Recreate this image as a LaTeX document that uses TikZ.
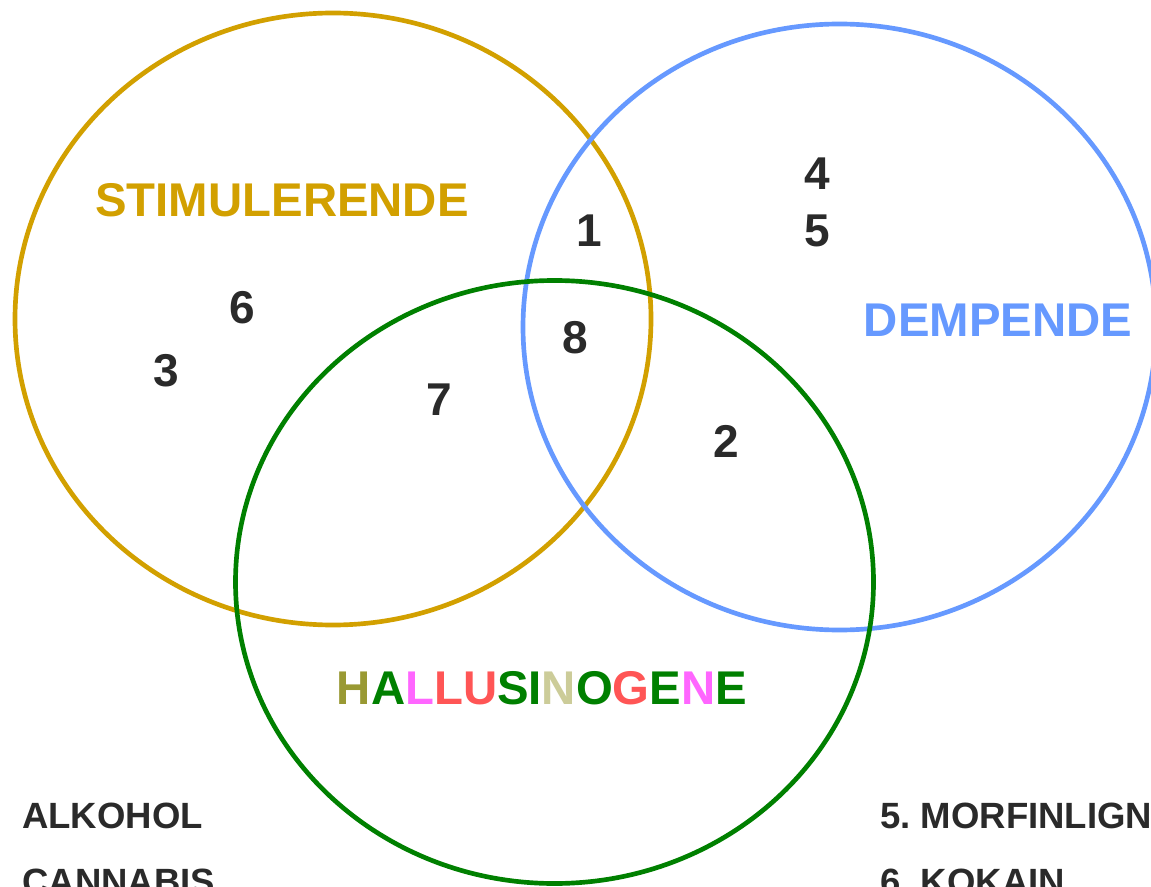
\documentclass[tikz,border=0pt]{standalone}
\usepackage{fontspec}
\setmainfont{Liberation Sans}
\frenchspacing
\definecolor{gold}{RGB}{210,160,0}
\definecolor{skyblue}{RGB}{102,153,255}
\definecolor{dgreen}{RGB}{0,128,0}
\definecolor{dark}{RGB}{42,42,42}
\definecolor{olive}{RGB}{153,153,51}
\definecolor{pinkish}{RGB}{255,102,255}
\definecolor{redish}{RGB}{255,85,85}
\definecolor{khaki}{RGB}{204,204,153}
\tikzset{
  ring/.style={line width=3.5pt},
  biglabel/.style={font=\bfseries\fontsize{35.5pt}{40pt}\selectfont, inner sep=0pt},
  digit/.style={font=\bfseries\fontsize{34.5pt}{40pt}\selectfont, text=dark, inner sep=0pt},
  legend/.style={font=\bfseries\fontsize{27.4pt}{32pt}\selectfont, text=dark, inner sep=0pt, anchor=base west}
}
\begin{document}
\begin{tikzpicture}[x=0.75pt,y=-0.75pt]
\useasboundingbox (0,0) rectangle (1151,887);
\clip (0,0) rectangle (1151,887);
\fill[white] (0,0) rectangle (1151,887);
% circles
\draw[ring, gold] (333,319) ellipse [x radius=318, y radius=306];
\draw[ring, skyblue] (839.5,327) ellipse [x radius=316.5, y radius=303];
\draw[ring, dgreen] (554.5,582) ellipse [x radius=319, y radius=301.5];
% labels
\node[biglabel, text=gold] (stim) at (282,200) {STIMULERENDE};
\node[biglabel, text=skyblue] (demp) at (998,320) {DEMPENDE};
\node[biglabel] (hall) at (542,688) {\textcolor{olive}{H}\textcolor{dgreen}{A}\textcolor{pinkish}{L}\textcolor{redish}{LU}\textcolor{dgreen}{SI}\textcolor{khaki}{N}\textcolor{dgreen}{O}\textcolor{redish}{G}\textcolor{dgreen}{E}\textcolor{pinkish}{N}\textcolor{dgreen}{E}};
% digits
\node[digit] (n4) at (817,174) {4};
\node[digit] (n5) at (817,231) {5};
\node[digit] (n1) at (589,231) {1};
\node[digit] (n6) at (242,308) {6};
\node[digit] (n3) at (166,371) {3};
\node[digit] (n8) at (575,338) {8};
\node[digit] (n7) at (439,400) {7};
\node[digit] (n2) at (726,441) {2};
% legend
\node[legend] (alk) at (22,828) {ALKOHOL};
\node[legend] (can) at (22,894) {CANNABIS};
\node[legend] (mor) at (880,828) {5. MORFINLIGNENDE};
\node[legend] (kok) at (880,894) {6. KOKAIN};
\end{tikzpicture}
\end{document}
